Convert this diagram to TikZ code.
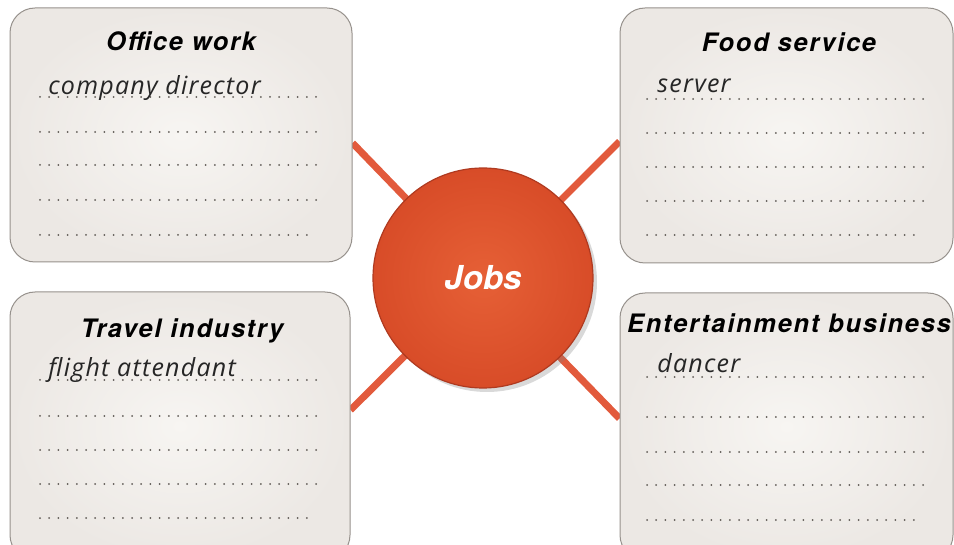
\documentclass[tikz,border=0pt]{standalone}
\usepackage{fontspec}
\setsansfont{TeX Gyre Heros}
\newfontfamily\titlefont[LetterSpace=7]{TeX Gyre Heros}
\newfontfamily\handfont[LetterSpace=5]{Open Sans}
\usetikzlibrary{shadows,backgrounds}
\definecolor{boxin}{RGB}{247,245,242}
\definecolor{boxout}{RGB}{236,232,228}
\definecolor{boxline}{RGB}{150,145,140}
\definecolor{jobsin}{RGB}{230,96,54}
\definecolor{jobsout}{RGB}{216,76,40}
\definecolor{jobsrim}{RGB}{175,58,32}
\definecolor{linkcol}{RGB}{226,90,60}
\definecolor{dotcol}{RGB}{95,90,85}
\tikzset{
  topicbox/.style={rectangle, rounded corners=12.5pt, draw=boxline, line width=0.5pt,
    inner color=boxin, outer color=boxout},
  titletext/.style={anchor=base, font=\titlefont\bfseries\itshape\fontsize{12.7}{14}\selectfont, text=black},
  handtext/.style={anchor=base west, font=\handfont\itshape\fontsize{12.5}{14}\selectfont, text=black!85, inner sep=0pt},
  writeline/.style={draw=dotcol, line width=1pt, line cap=round, dash pattern=on 0pt off 4.6pt},
  link/.style={draw=linkcol, line width=3.5pt},
  hub/.style={circle, minimum size=110pt, inner sep=0pt, inner color=jobsin, outer color=jobsout,
    draw=jobsrim, line width=0.6pt,
    drop shadow={shadow xshift=2pt, shadow yshift=-2pt, opacity=0.3, fill=black!50},
    font=\sffamily\bfseries\itshape\fontsize{16.5}{18}\selectfont, text=white}
}
\begin{document}
\begin{tikzpicture}[x=0.5pt, y=-0.5pt]
\useasboundingbox (0,0) rectangle (954,545);
\clip (0,0) rectangle (954,545);
% boxes
\node[topicbox, minimum width=171pt, minimum height=127pt] (office) at (181,135) {};
\node[topicbox, minimum width=170pt, minimum height=134pt] (travel) at (180,426) {};
\node[topicbox, minimum width=166.5pt, minimum height=127.5pt] (food) at (786.5,135.5) {};
\node[topicbox, minimum width=166.5pt, minimum height=133.5pt] (ent) at (786.5,426.5) {};
% hub
\node[hub] (jobs) at (483,278) {Jobs};
% links
\begin{scope}[on background layer]
\draw[link] (jobs.center) -- ([yshift=-4pt]office.east);
\draw[link] (jobs.center) -- ([yshift=-3pt]food.west);
\draw[link] (jobs.center) -- ([yshift=8pt]travel.east);
\draw[link] (jobs.center) -- ([yshift=4pt]ent.west);
\end{scope}
% titles
\node[titletext] (officeT) at (181,51) {Office work};
\node[titletext] (foodT) at (789,52) {Food service};
\node[titletext] (travelT) at (182,338) {Travel industry};
\node[titletext] (entT) at (789,333) {Entertainment business};
% writing lines
\foreach \y in {97,132,165,200} \draw[writeline] (40,\y) -- (322,\y);
\draw[writeline] (40,235) -- (313,235);
\foreach \y in {99,133,167,201} \draw[writeline] (647,\y) -- (927,\y);
\draw[writeline] (647,235) -- (920,235);
\foreach \y in {380,416,450,484} \draw[writeline] (40,\y) -- (322,\y);
\draw[writeline] (40,518) -- (313,518);
\foreach \y in {377,417,452,485} \draw[writeline] (647,\y) -- (927,\y);
\draw[writeline] (647,520) -- (920,520);
% handwritten answers
\node[handtext] (officeA) at (48,95) {company director};
\node[handtext] (foodA) at (657,93) {server};
\node[handtext] (travelA) at (48,377) {flight attendant};
\node[handtext] (entA) at (657,373) {dancer};
\end{tikzpicture}
\end{document}
